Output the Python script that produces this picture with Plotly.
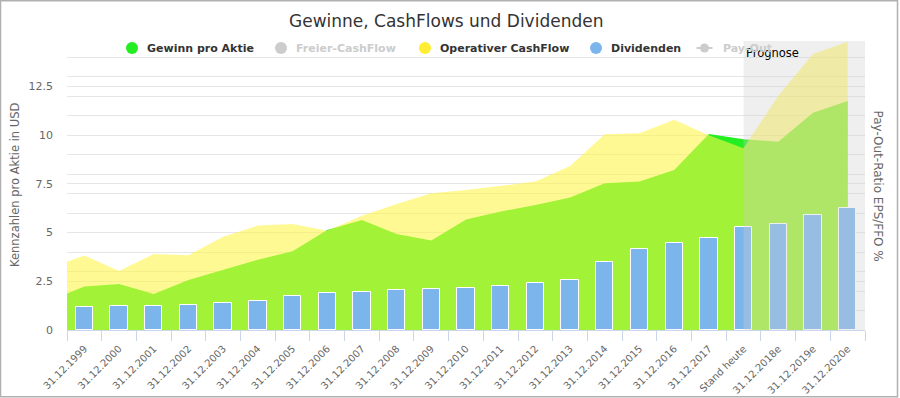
import plotly.graph_objects as go

# ---------------- data ----------------
categories = [
    "31.12.1999", "31.12.2000", "31.12.2001", "31.12.2002", "31.12.2003",
    "31.12.2004", "31.12.2005", "31.12.2006", "31.12.2007", "31.12.2008",
    "31.12.2009", "31.12.2010", "31.12.2011", "31.12.2012", "31.12.2013",
    "31.12.2014", "31.12.2015", "31.12.2016", "31.12.2017", "Stand heute",
    "31.12.2018e", "31.12.2019e", "31.12.2020e",
]
# value of the preceding year (1998), lies left of the visible range and is clipped
eps_prev = 1.52
ocf_prev = 3.20
gewinn_pro_aktie = [2.24, 2.36, 1.85, 2.57, 3.08, 3.61, 4.04, 5.14, 5.65, 4.93,
                    4.59, 5.68, 6.08, 6.42, 6.80, 7.53, 7.62, 8.22, 10.07, 9.79,
                    9.67, 11.16, 11.76]
operativer_cashflow = [3.82, 3.03, 3.90, 3.84, 4.79, 5.36, 5.44, 5.10, 5.87, 6.47,
                       7.02, 7.19, 7.40, 7.62, 8.42, 10.05, 10.10, 10.79, 10.00, 9.33,
                       12.03, 14.17, 14.80]
dividenden = [1.17, 1.22, 1.22, 1.27, 1.37, 1.47, 1.73, 1.88, 1.93, 2.04,
              2.09, 2.14, 2.26, 2.40, 2.55, 3.48, 4.14, 4.45, 4.71, 5.27,
              5.43, 5.89, 6.25]
forecast_start = "Stand heute"
y_ticks = [0, 2.5, 5, 7.5, 10, 12.5]
y_max = 14.84

# ---------------- layout helpers ----------------
W, H = 900, 398
L, R, T, B = 67, 865, 41, 330
FONT = "DejaVu Sans"


def px(x):
    return (x - L) / (R - L)


def py(y):
    return (B - y) / (B - T)


idx = list(range(len(categories)))
x_area = [-1] + idx

fig = go.Figure()

fig.add_trace(go.Scatter(
    x=x_area, y=[eps_prev] + gewinn_pro_aktie, mode="lines", fill="tozeroy",
    line=dict(width=0, color="rgb(34,238,34)"), fillcolor="rgb(34,238,34)",
    name="Gewinn pro Aktie", showlegend=False, hoverinfo="skip"))
fig.add_trace(go.Scatter(
    x=x_area, y=[ocf_prev] + operativer_cashflow, mode="lines", fill="tozeroy",
    line=dict(width=0, color="rgba(255,245,70,0.58)"), fillcolor="rgba(255,245,70,0.58)",
    name="Operativer CashFlow", showlegend=False, hoverinfo="skip"))
# bars on an overlaying axis with the same scale so that they are drawn above the areas
fig.add_trace(go.Bar(
    x=idx, y=dividenden, width=0.5, name="Dividenden", showlegend=False, yaxis="y2",
    marker=dict(color="#7cb5ec", line=dict(color="white", width=1))))

shapes = []
fs = categories.index(forecast_start)
# forecast band
shapes.append(dict(type="rect", xref="x", yref="paper", x0=fs, x1=len(categories) - 0.5,
                   y0=0, y1=1, fillcolor="rgba(206,206,206,0.33)", line=dict(width=0),
                   layer="above"))
# chart frame
shapes.append(dict(type="rect", xref="paper", yref="paper", x0=px(0.5), x1=px(897.5),
                   y0=py(396.8), y1=py(0.8), line=dict(color="#b0b0b0", width=1.5),
                   fillcolor="rgba(0,0,0,0)", layer="above"))

annotations = []
annotations.append(dict(text="Gewinne, CashFlows und Dividenden", xref="paper", yref="paper",
                        x=px(446), y=py(21), xanchor="center", yanchor="middle",
                        showarrow=False, font=dict(family=FONT, size=17, color="#333333")))
annotations.append(dict(text="Kennzahlen pro Aktie in USD", xref="paper", yref="paper",
                        x=px(14.5), y=py(185.5), xanchor="center", yanchor="middle",
                        textangle=-90, showarrow=False,
                        font=dict(family=FONT, size=11.5, color="#666666")))
annotations.append(dict(text="Pay-Out-Ratio EPS/FFO %", xref="paper", yref="paper",
                        x=px(878), y=py(185.5), xanchor="center", yanchor="middle",
                        textangle=90, showarrow=False,
                        font=dict(family=FONT, size=12, color="#666666")))
annotations.append(dict(text="Prognose", xref="paper", yref="paper",
                        x=px(744), y=py(53), xanchor="left", yanchor="middle",
                        showarrow=False, font=dict(family=FONT, size=11.5, color="#000000")))

# custom legend
legend_items = [
    ("Gewinn pro Aktie", "#22ee22", "#333333", 132, 145, False),
    ("Freier-CashFlow", "#cccccc", "#cccccc", 281, 294, False),
    ("Operativer CashFlow", "#ffee33", "#333333", 425, 438, False),
    ("Dividenden", "#7cb5ec", "#333333", 596, 609, False),
    ("Pay-Out", "#cccccc", "#cccccc", 704.5, 721, True),
]
LY = 48
for name, col, tcol, cx, tx, is_line in legend_items:
    r = 4.5 if is_line else 6
    if is_line:
        shapes.append(dict(type="line", xref="paper", yref="paper",
                           x0=px(cx - 8), x1=px(cx + 8), y0=py(LY), y1=py(LY),
                           line=dict(color=col, width=2), layer="above"))
    shapes.append(dict(type="circle", xref="paper", yref="paper",
                       xsizemode="pixel", ysizemode="pixel",
                       xanchor=px(cx), yanchor=py(LY), x0=-r, x1=r, y0=-r, y1=r,
                       fillcolor=col, line=dict(width=0), layer="above"))
    annotations.append(dict(text="<b>%s</b>" % name, xref="paper", yref="paper",
                            x=px(tx), y=py(LY), xanchor="left", yanchor="middle",
                            showarrow=False, font=dict(family=FONT, size=11, color=tcol)))

fig.update_layout(
    width=W, height=H,
    margin=dict(l=L, r=W - R, t=T, b=H - B, pad=0, autoexpand=False),
    paper_bgcolor="white", plot_bgcolor="white",
    showlegend=False, bargap=0,
    shapes=shapes, annotations=annotations,
    font=dict(family=FONT, color="#666666"),
    xaxis=dict(
        range=[-0.5, len(categories) - 0.5], tickmode="array", tickvals=idx,
        ticktext=categories, tickangle=-45, ticks="outside", ticklen=8,
        tickcolor="rgba(0,0,0,0)", showgrid=False, zeroline=False,
        showline=True, linecolor="#ccd6eb", linewidth=1, automargin=False,
        tickfont=dict(family=FONT, size=10, color="#666666"),
        minor=dict(tickmode="array", tickvals=[i - 0.5 for i in range(len(categories) + 1)],
                   ticks="outside", ticklen=10, tickcolor="#ccd6eb", tickwidth=1,
                   showgrid=False),
        fixedrange=True,
    ),
    yaxis=dict(
        range=[0, y_max], tickmode="array", tickvals=y_ticks,
        ticktext=[("%g" % v) for v in y_ticks], showgrid=True, gridcolor="#e6e6e6",
        gridwidth=1, zeroline=False, showline=False, ticks="", automargin=False,
        ticklabelstandoff=13,
        tickfont=dict(family=FONT, size=11, color="#666666"),
        minor=dict(tickmode="linear", tick0=0, dtick=1, showgrid=True,
                   gridcolor="#e6e6e6", gridwidth=1, ticks=""),
        fixedrange=True,
    ),
    yaxis2=dict(
        range=[0, y_max], overlaying="y", side="left", showgrid=False,
        showticklabels=False, zeroline=False, showline=False, ticks="",
        automargin=False, fixedrange=True,
    ),
)

fig.write_html("out.html", config={"displayModeBar": False},
               post_script="document.body.style.margin='0';")
